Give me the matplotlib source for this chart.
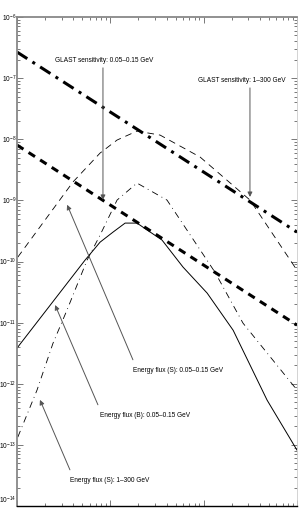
import matplotlib
matplotlib.use('Agg')
import matplotlib.pyplot as plt
from matplotlib.ticker import LogLocator, NullFormatter

plt.rcParams['font.family'] = ['Liberation Sans', 'DejaVu Sans']
plt.rcParams['mathtext.fontset'] = 'custom'
plt.rcParams['mathtext.rm'] = 'Liberation Sans'

# GLAST sensitivity curves
glast_hi_x = [1.0, 1000.0]
glast_hi_y = [2.67e-7, 3.03e-10]
glast_lo_x = [1.0, 1000.0]
glast_lo_y = [8.04e-9, 9.1e-12]

# Energy flux (B): 0.05-0.15 GeV  (thin dashed)
flux_b_x = [1.02, 3.98, 7.76, 11.8, 19.3, 34.1, 91.5, 314, 1000]
flux_b_y = [1.18e-10, 2.0e-9, 5.94e-9, 9.7e-9, 1.36e-8, 1.17e-8, 5.12e-9, 1.01e-9, 7.2e-11]

# Energy flux (S): 0.05-0.15 GeV  (solid)
flux_s_x = [1.0, 5.35, 7.76, 10.7, 14.4, 19.3, 35.8, 60.1, 109, 207, 478, 1000]
flux_s_y = [3.83e-12, 1.05e-10, 2.07e-10, 3.03e-10, 4.25e-10, 4.25e-10, 2.24e-10,
            8.1e-11, 3.04e-11, 7.5e-12, 5.4e-13, 8.2e-14]

# Energy flux (S): 1-300 GeV  (thin dash-dot)
flux_s2_x = [1.02, 1.64, 2.43, 3.43, 5.63, 7.76, 11.8, 19.3, 40.5, 132, 264, 1000]
flux_s2_y = [1.34e-13, 7.9e-13, 4.6e-12, 1.6e-11, 1.05e-10, 2.7e-10, 1.01e-9,
             1.92e-9, 1.01e-9, 6.7e-11, 9.8e-12, 7.9e-13]

# y axis decades and labels
y_exponents = [-14, -13, -12, -11, -10, -9, -8, -7, -6]
y_ticks = [10.0 ** e for e in y_exponents]
y_labels = ['$10^{%d}$' % e for e in y_exponents]

fig = plt.figure(figsize=(3.04, 5.13), dpi=100)
ax = fig.add_axes([17 / 304, 7 / 513, 280 / 304, 489 / 513])

ax.plot(glast_hi_x, glast_hi_y, color='black', lw=2.2, dashes=(4, 2, 1, 2))
ax.plot(glast_lo_x, glast_lo_y, color='black', lw=2.2, dashes=(2.5, 2))
ax.plot(flux_b_x, flux_b_y, color='black', lw=0.6, dashes=(8, 6))
ax.plot(flux_s_x, flux_s_y, color='black', lw=0.7)
ax.plot(flux_s2_x, flux_s2_y, color='black', lw=0.6, dashes=(8, 5, 1, 5))

ax.set_xscale('log')
ax.set_yscale('log')
ax.set_xlim(1, 1000)
ax.set_ylim(1e-14, 1e-6)

ax.set_yticks(y_ticks)
ax.set_yticklabels(y_labels)
ax.yaxis.set_minor_locator(LogLocator(base=10, subs=range(2, 10), numticks=20))
ax.yaxis.set_minor_formatter(NullFormatter())
ax.xaxis.set_minor_locator(LogLocator(base=10, subs=range(2, 10), numticks=20))
ax.xaxis.set_major_formatter(NullFormatter())
ax.xaxis.set_minor_formatter(NullFormatter())
ax.tick_params(which='both', direction='in', top=True, right=True, width=0.5,
               colors='#444444', labelsize=4.8, labelcolor='black', pad=0.5)
ax.tick_params(which='major', length=4)
ax.tick_params(which='minor', length=2)

# keep the lowest y label inside the figure
ax.yaxis.get_major_ticks()[0].label1.set_verticalalignment('bottom')

for side in ['left', 'top']:
    ax.spines[side].set_color('#888888')
    ax.spines[side].set_linewidth(1.3)
ax.spines['bottom'].set_color('black')
ax.spines['bottom'].set_linewidth(1.0)
ax.spines['right'].set_color('#cccccc')
ax.spines['right'].set_linewidth(0.6)

arrow = dict(arrowstyle='-|>', color='#555555', lw=0.7, mutation_scale=7,
             shrinkA=0, shrinkB=0)
fs = 4.7

ax.text(0.311, 0.912, 'GLAST sensitivity: 0.05\u20130.15 GeV', transform=ax.transAxes,
        ha='center', va='center', fontsize=fs)
ax.annotate('', xy=(0.307, 0.626), xytext=(0.307, 0.896),
            xycoords='axes fraction', textcoords='axes fraction', arrowprops=arrow)

ax.text(0.960, 0.871, 'GLAST sensitivity: 1\u2013300 GeV', transform=ax.transAxes,
        ha='right', va='center', fontsize=fs)
ax.annotate('', xy=(0.832, 0.632), xytext=(0.832, 0.855),
            xycoords='axes fraction', textcoords='axes fraction', arrowprops=arrow)

ax.text(0.414, 0.278, 'Energy flux (S): 0.05\u20130.15 GeV', transform=ax.transAxes,
        ha='left', va='center', fontsize=fs)
ax.annotate('', xy=(0.179, 0.616), xytext=(0.414, 0.299),
            xycoords='axes fraction', textcoords='axes fraction', arrowprops=arrow)

ax.text(0.296, 0.186, 'Energy flux (B): 0.05\u20130.15 GeV', transform=ax.transAxes,
        ha='left', va='center', fontsize=fs)
ax.annotate('', xy=(0.136, 0.411), xytext=(0.289, 0.207),
            xycoords='axes fraction', textcoords='axes fraction', arrowprops=arrow)

ax.text(0.189, 0.053, 'Energy flux (S): 1\u2013300 GeV', transform=ax.transAxes,
        ha='left', va='center', fontsize=fs)
ax.annotate('', xy=(0.082, 0.217), xytext=(0.189, 0.074),
            xycoords='axes fraction', textcoords='axes fraction', arrowprops=arrow)

fig.savefig('out.png', dpi=100)
